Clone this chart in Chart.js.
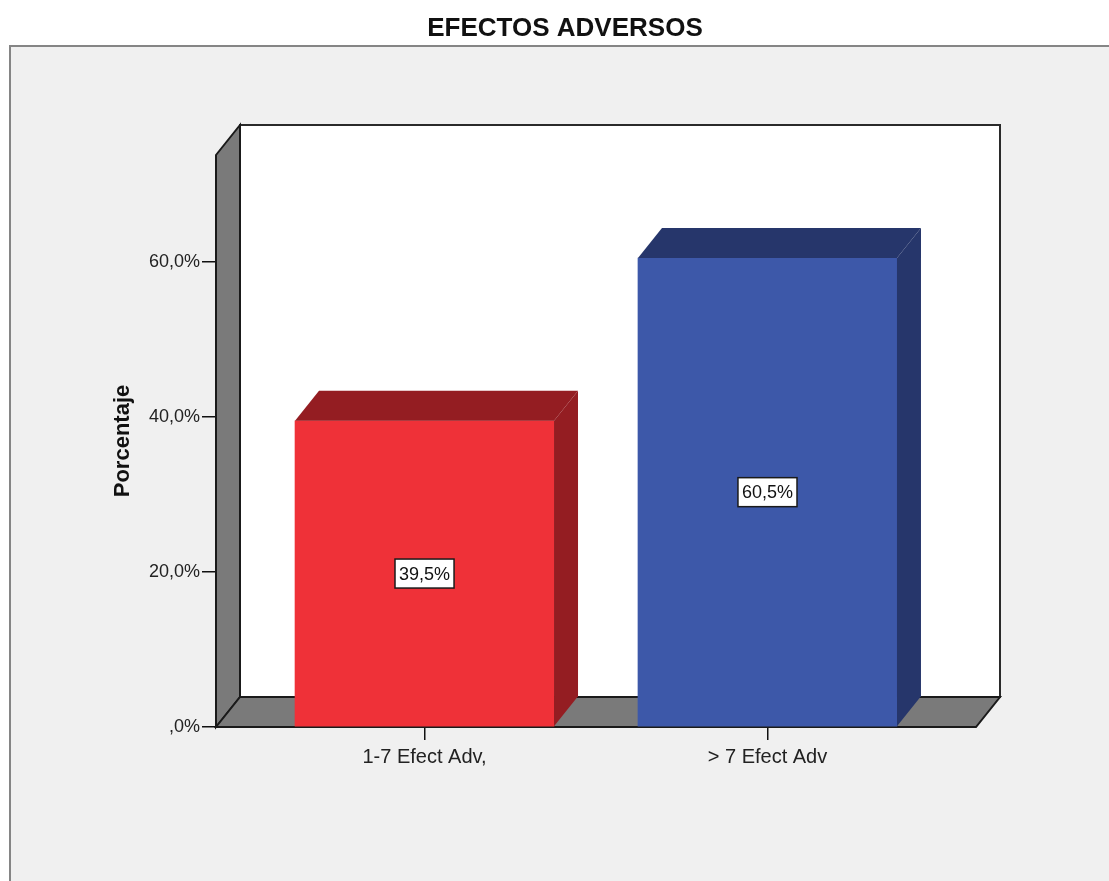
<!DOCTYPE html>
<html>
<head>
<meta charset="utf-8">
<title>EFECTOS ADVERSOS</title>
<script src="https://cdn.jsdelivr.net/npm/chart.js@4"></script>
<style>
  html, body { margin: 0; padding: 0; background: #ffffff; }
  #wrap { width: 1109px; height: 881px; }
</style>
</head>
<body>
<div id="wrap"><canvas id="c" width="1109" height="881"></canvas></div>
<script>
// Chart data
const categories = ['1-7 Efect Adv,', '> 7 Efect Adv'];
const percentages = [39.5, 60.5];
const yTickValues = [0, 20, 40, 60];
const yTickLabels = [',0%', '20,0%', '40,0%', '60,0%'];

const chartTitle = 'EFECTOS ADVERSOS';
const yAxisTitle = 'Porcentaje';

const frontColors = ['#ef3138', '#3d58a9'];
const darkColors = ['#941d22', '#26366b'];

// depth of the 3D projection in pixels
const DEPTH_X = 24;
const DEPTH_Y = 30;
const FONT = '"Liberation Sans", Arial, sans-serif';

function poly(ctx, pts, fill, stroke, lw) {
  ctx.beginPath();
  ctx.moveTo(pts[0][0], pts[0][1]);
  for (let i = 1; i < pts.length; i++) ctx.lineTo(pts[i][0], pts[i][1]);
  ctx.closePath();
  if (fill) { ctx.fillStyle = fill; ctx.fill(); }
  if (stroke) { ctx.strokeStyle = stroke; ctx.lineWidth = lw || 1; ctx.lineJoin = 'miter'; ctx.stroke(); }
}

const frame3d = {
  id: 'frame3d',
  beforeDraw(chart) {
    const ctx = chart.ctx;
    ctx.save();
    ctx.fillStyle = '#ffffff';
    ctx.fillRect(0, 0, chart.width, chart.height);
    // grey panel behind the plot
    ctx.fillStyle = '#f0f0f0';
    ctx.fillRect(10, 46, chart.width, chart.height);
    ctx.strokeStyle = '#858585';
    ctx.lineWidth = 2;
    ctx.strokeRect(10, 46, chart.width + 20, chart.height + 20);
    ctx.restore();
  },
  beforeDatasetsDraw(chart) {
    const ctx = chart.ctx;
    const a = chart.chartArea;
    const L = a.left, R = a.right, T = a.top, B = a.bottom;
    ctx.save();
    // back wall
    poly(ctx, [[L + DEPTH_X, T - DEPTH_Y], [R + DEPTH_X, T - DEPTH_Y], [R + DEPTH_X, B - DEPTH_Y], [L + DEPTH_X, B - DEPTH_Y]], '#ffffff', '#2a2a2a', 2);
    // left wall
    poly(ctx, [[L, T], [L + DEPTH_X, T - DEPTH_Y], [L + DEPTH_X, B - DEPTH_Y], [L, B]], '#7a7a7a', '#1a1a1a', 2);
    // floor
    poly(ctx, [[L, B], [L + DEPTH_X, B - DEPTH_Y], [R + DEPTH_X, B - DEPTH_Y], [R, B]], '#7a7a7a', '#1a1a1a', 2);
    ctx.restore();
  },
  afterDatasetsDraw(chart) {
    const ctx = chart.ctx;
    const meta = chart.getDatasetMeta(0);
    ctx.save();
    meta.data.forEach((bar, i) => {
      const p = bar.getProps(['x', 'y', 'base', 'width'], true);
      const l = p.x - p.width / 2, r = p.x + p.width / 2;
      const top = p.y, base = p.base;
      // top face
      poly(ctx, [[l, top], [l + DEPTH_X, top - DEPTH_Y], [r + DEPTH_X, top - DEPTH_Y], [r, top]], darkColors[i]);
      // side face
      poly(ctx, [[r, top], [r + DEPTH_X, top - DEPTH_Y], [r + DEPTH_X, base - DEPTH_Y], [r, base]], darkColors[i]);
    });
    // value labels
    ctx.font = '18px ' + FONT;
    ctx.textAlign = 'center';
    ctx.textBaseline = 'middle';
    meta.data.forEach((bar, i) => {
      const p = bar.getProps(['x', 'y', 'base'], true);
      const text = percentages[i].toFixed(1).replace('.', ',') + '%';
      const cy = (p.y + p.base) / 2;
      const w = ctx.measureText(text).width + 8;
      const h = 29;
      ctx.fillStyle = '#ffffff';
      ctx.fillRect(p.x - w / 2, cy - h / 2, w, h);
      ctx.strokeStyle = '#1a1a1a';
      ctx.lineWidth = 1.5;
      ctx.strokeRect(p.x - w / 2, cy - h / 2, w, h);
      ctx.fillStyle = '#111111';
      ctx.fillText(text, p.x, cy + 1);
    });
    ctx.restore();
  },
  afterDraw(chart) {
    const ctx = chart.ctx;
    ctx.save();
    ctx.fillStyle = '#111111';
    ctx.textAlign = 'center';
    ctx.textBaseline = 'middle';
    ctx.font = 'bold 26px ' + FONT;
    ctx.fillText(chartTitle, 565, 29);
    ctx.translate(123, 441);
    ctx.rotate(-Math.PI / 2);
    ctx.font = 'bold 22px ' + FONT;
    ctx.fillText(yAxisTitle, 0, 0);
    ctx.restore();
  }
};

new Chart(document.getElementById('c'), {
  type: 'bar',
  data: {
    datasets: [{
      data: percentages.map((v, i) => ({ x: i, y: v })),
      backgroundColor: frontColors,
      borderWidth: 0,
      barThickness: 259
    }]
  },
  options: {
    responsive: false,
    animation: false,
    layout: { padding: { left: 0, top: 155, right: 133, bottom: 0 } },
    plugins: {
      legend: { display: false },
      tooltip: { enabled: false },
      title: { display: false }
    },
    scales: {
      x: {
        type: 'linear',
        offset: false,
        min: -0.608,
        max: 1.608,
        afterBuildTicks(scale) { scale.ticks = categories.map((_, i) => ({ value: i })); },
        afterFit(scale) { scale.height = 154; },
        border: { display: false },
        grid: { offset: false, drawOnChartArea: false, drawTicks: true, tickLength: 13, color: '#111111', lineWidth: 1.5 },
        ticks: {
          padding: 5,
          color: '#222222',
          font: { family: FONT, size: 20 },
          maxRotation: 0,
          autoSkip: false,
          callback: (v) => categories[v]
        }
      },
      y: {
        min: 0,
        max: 73.8,
        afterBuildTicks(scale) { scale.ticks = yTickValues.map(v => ({ value: v })); },
        afterFit(scale) { scale.width = 216; },
        border: { display: false },
        grid: { drawOnChartArea: false, drawTicks: true, tickLength: 14, color: '#111111', lineWidth: 1.5 },
        ticks: {
          padding: 2,
          color: '#222222',
          font: { family: FONT, size: 18 },
          callback: (v) => yTickLabels[yTickValues.indexOf(v)]
        }
      }
    }
  },
  plugins: [frame3d]
});
</script>
</body>
</html>
